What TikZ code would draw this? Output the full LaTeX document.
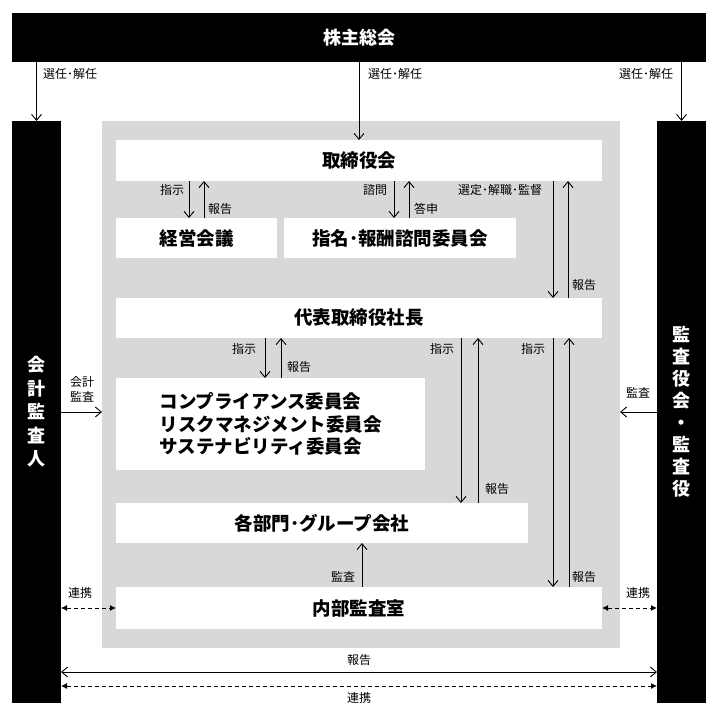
\documentclass[tikz,border=0pt]{standalone}
\usepackage{fontspec}
\newfontfamily\jp{Noto Sans CJK JP}
\usetikzlibrary{arrows.meta}
\definecolor{areagray}{RGB}{216,216,216}

\begin{document}
\begin{tikzpicture}[x=1pt, y=-1pt,
    blackbox/.style={fill=black, text=white, inner sep=0pt, outer sep=0pt,
      font=\jp\bfseries\fontsize{18}{22}\selectfont},
    whitebox/.style={fill=white, inner sep=0pt, outer sep=0pt,
      font=\jp\bfseries\fontsize{18.5}{22.5}\selectfont},
    lbl/.style={inner sep=0pt, font=\jp\fontsize{12}{14}\selectfont},
    arr/.style={line width=0.9pt, -{Straight Barb[length=6pt,width=10pt]}},
    dblarr/.style={line width=0.9pt,
      {Straight Barb[length=6pt,width=10pt]}-{Straight Barb[length=6pt,width=10pt]}},
    link/.style={line width=0.9pt, dash pattern=on 4pt off 3pt,
      {Latex[length=6pt,width=6pt]}-{Latex[length=6pt,width=6pt]}}]
  \useasboundingbox (0,0) rectangle (718,718);

  % outer bodies
  \node[blackbox, minimum width=694pt, minimum height=49pt] (soukai) at (359,37.5) {株主総会};
  \node[blackbox, minimum width=49pt, minimum height=582pt, align=center,
    font=\jp\bfseries\fontsize{18}{23.5}\selectfont] (kaikei) at (36.5,412) {会\\計\\監\\査\\人};
  \node[blackbox, minimum width=49pt, minimum height=582pt, align=center] (kansa) at (681.5,412)
    {監\\査\\役\\会\\・\\監\\査\\役};
  \node[fill=areagray, minimum width=518pt, minimum height=527pt, inner sep=0pt, outer sep=0pt]
    (area) at (361,384.5) {};

  % boxes inside the gray area
  \node[whitebox, minimum width=486pt, minimum height=41pt] (torishimari) at (359,160.5) {取締役会};
  \node[whitebox, minimum width=161pt, minimum height=40pt] (keiei) at (196.5,238) {経営会議};
  \node[whitebox, minimum width=232pt, minimum height=40pt] (shimei) at (400,238) {指名･報酬諮問委員会};
  \node[whitebox, minimum width=486pt, minimum height=40pt] (daihyo) at (359,318) {代表取締役社長};
  \node[whitebox, minimum width=309pt, minimum height=92pt, align=left] (iinkai) at (270.5,424)
    {コンプライアンス委員会\\リスクマネジメント委員会\\サステナビリティ委員会};
  \node[whitebox, minimum width=412pt, minimum height=40pt] (bumon) at (322,523) {各部門･グループ会社};
  \node[whitebox, minimum width=486pt, minimum height=42pt] (naibu) at (359,608) {内部監査室};

  % election
  \draw[arr] (soukai.south -| kaikei.north) -- (kaikei.north);
  \draw[arr] (soukai.south) -- (torishimari.north);
  \draw[arr] (soukai.south -| kansa.north) -- (kansa.north);
  \node[lbl] (sennin1) at (70,74) {選任･解任};
  \node[lbl] (sennin2) at (395,74) {選任･解任};
  \node[lbl] (sennin3) at (646,74) {選任･解任};

  % 取締役会
  \draw[arr] ([xshift=73pt]torishimari.south west) -- ([xshift=73pt]keiei.north west);
  \draw[arr] ([xshift=88pt]keiei.north west) -- ([xshift=88pt]torishimari.south west);
  \node[lbl] (shiji1) at (172,190) {指示};
  \node[lbl] (houkoku1) at (220,209) {報告};
  \draw[arr] ([xshift=278pt]torishimari.south west) -- ([xshift=110pt]shimei.north west);
  \draw[arr] ([xshift=125pt]shimei.north west) -- ([xshift=293pt]torishimari.south west);
  \node[lbl] (shimon) at (375,190) {諮問};
  \node[lbl] (toushin) at (426,209) {答申};
  \draw[arr] ([xshift=437pt]torishimari.south west) -- ([xshift=437pt]daihyo.north west);
  \draw[arr] ([xshift=452pt]daihyo.north west) -- ([xshift=452pt]torishimari.south west);
  \node[lbl] (sentei) at (500,190) {選定･解職･監督};
  \node[lbl] (houkoku2) at (584,285) {報告};

  % 代表取締役社長
  \draw[arr] ([xshift=149pt]daihyo.south west) -- ([xshift=149pt]iinkai.north west);
  \draw[arr] ([xshift=165pt]iinkai.north west) -- ([xshift=165pt]daihyo.south west);
  \node[lbl] (shiji2) at (244,349) {指示};
  \node[lbl] (houkoku3) at (299,367) {報告};
  \draw[arr] ([xshift=345pt]daihyo.south west) -- ([xshift=345pt]bumon.north west);
  \draw[arr] ([xshift=362pt]bumon.north west) -- ([xshift=362pt]daihyo.south west);
  \node[lbl] (shiji3) at (442,349) {指示};
  \node[lbl] (houkoku4) at (497,489) {報告};
  \draw[arr] ([xshift=437pt]daihyo.south west) -- ([xshift=437pt]naibu.north west);
  \draw[arr] ([xshift=453pt]naibu.north west) -- ([xshift=453pt]daihyo.south west);
  \node[lbl] (shiji4) at (533,349) {指示};
  \node[lbl] (houkoku5) at (584,577) {報告};

  % 内部監査室
  \draw[arr] ([xshift=246pt]naibu.north west) -- ([xshift=246pt]bumon.south west);
  \node[lbl] (kansa1) at (343,577) {監査};

  % audit from both sides
  \draw[arr] (kaikei.east) -- (kaikei.east -| area.west);
  \node[lbl, align=center, font=\jp\fontsize{12}{15}\selectfont] (kaikeikansa) at (82,389) {会計\\監査};
  \draw[arr] (kansa.west) -- (kansa.west -| area.east);
  \node[lbl] (kansa2) at (638,393) {監査};

  % cooperation
  \draw[link] (naibu.west -| kaikei.east) -- (naibu.west);
  \node[lbl] (renkei1) at (80,593) {連携};
  \draw[link] (naibu.east) -- (naibu.east -| kansa.west);
  \node[lbl] (renkei2) at (638,593) {連携};
  \draw[dblarr] ([yshift=31pt]kaikei.south east) -- ([yshift=31pt]kansa.south west);
  \node[lbl] (houkoku6) at (359,660) {報告};
  \draw[link] ([yshift=17pt]kaikei.south east) -- ([yshift=17pt]kansa.south west);
  \node[lbl] (renkei3) at (359,698) {連携};
\end{tikzpicture}
\end{document}
